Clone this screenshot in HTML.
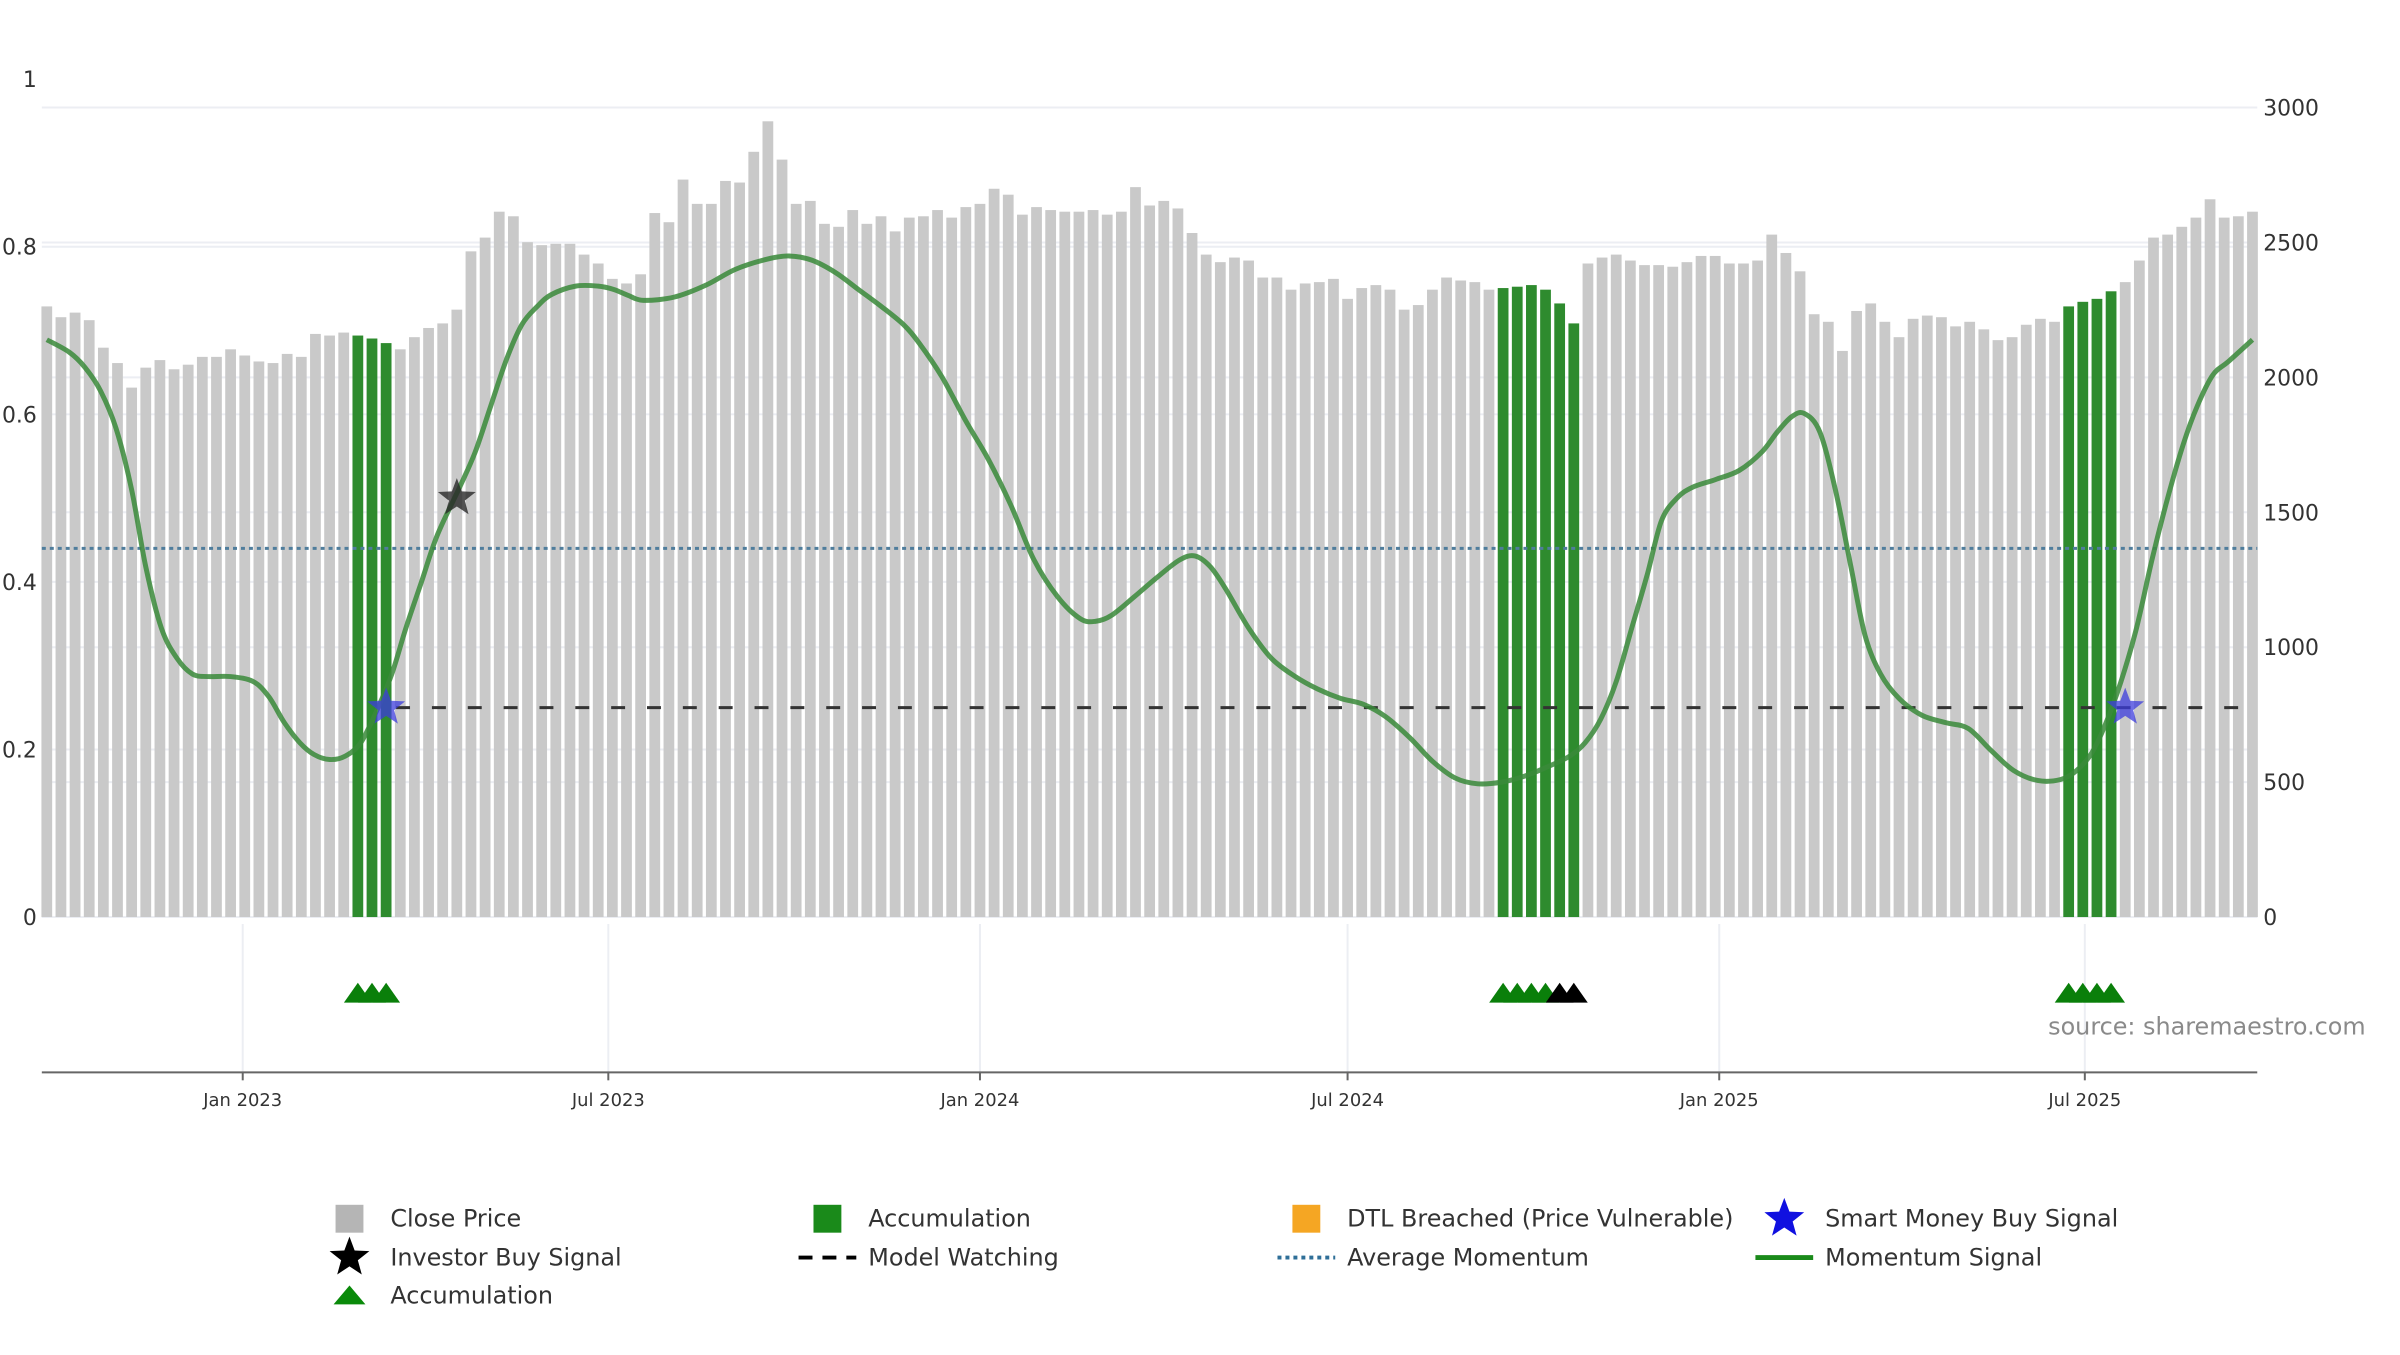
<!DOCTYPE html>
<html><head><meta charset="utf-8">
<style>
html,body{margin:0;padding:0;background:#fff;}
svg text{font-family:"DejaVu Sans","Liberation Sans",sans-serif;}
</style></head>
<body>
<svg id="chart" width="2400" height="1350" viewBox="0 0 2400 1350" xmlns="http://www.w3.org/2000/svg">
<g transform="scale(0.9957)">
<g id="grid"></g>
<g id="bars"></g>
<g id="lines"></g>
<g id="marks"></g>
<g id="axes"></g>
<text x="2057" y="1039" font-size="24" fill="#8a8a8a">source: sharemaestro.com</text>
<g id="legend"></g>
</g>
</svg>
<script>
const prices=[2263,2223,2240,2212,2110,2053,1962,2036,2064,2030,2047,2076,2076,2104,2081,2059,2053,2087,2076,2161,2155,2166,2155,2144,2127,2104,2149,2183,2200,2251,2467,2518,2614,2597,2501,2490,2495,2495,2455,2422,2365,2348,2382,2609,2575,2733,2643,2643,2728,2722,2836,2949,2807,2643,2654,2569,2558,2620,2569,2597,2541,2592,2597,2620,2592,2631,2643,2699,2677,2603,2631,2620,2614,2614,2620,2603,2614,2705,2637,2654,2626,2535,2455,2427,2444,2433,2370,2370,2325,2348,2353,2365,2291,2331,2342,2325,2251,2268,2325,2370,2359,2353,2325,2331,2336,2342,2325,2274,2200,2422,2444,2455,2433,2416,2416,2410,2427,2450,2450,2422,2422,2433,2529,2461,2393,2234,2206,2098,2246,2274,2206,2149,2217,2229,2223,2189,2206,2178,2138,2149,2195,2217,2206,2263,2280,2291,2319,2353,2433,2518,2529,2558,2592,2660,2592,2597,2614];
const accumIdx=[22,23,24,103,104,105,106,107,108,143,144,145,146];
const triGreenIdx=[22,23,24,103,104,105,106,143,144,145,146];
const triBlackIdx=[107,108];
const momIdx=[0,1.6,2.7,3.8,4.9,6.0,7.0,8.1,9.2,10.3,11.4,13.0,14.6,15.7,16.8,17.9,18.9,20.0,21.1,22.2,23.3,24.4,25.4,26.5,27.6,29.2,30.3,31.4,32.5,33.6,34.7,35.7,37.4,39.0,40.1,41.1,42.2,44.4,46.6,48.7,50.9,52.5,54.1,55.8,57.4,59.0,60.6,61.7,63.3,65.0,66.6,68.2,69.8,71.5,73.1,74.2,75.3,76.9,78.5,80.1,81.2,82.3,83.4,85.0,86.6,88.3,89.9,91.5,93.1,94.7,96.4,98.0,99.6,101.2,102.9,104.5,106.1,107.7,108.8,109.9,111.0,112.1,113.2,114.2,115.3,116.4,118.0,119.7,121.3,122.4,123.4,124.3,125.4,126.5,127.6,128.6,129.7,131.0,132.6,134.3,135.9,137.5,139.1,140.8,142.4,143.5,144.6,145.6,146.7,147.8,148.9,150.0,151.1,152.1,153.2,154.3,156];
const momVal=[.689,.674,.656,.628,.583,.510,.418,.345,.309,.290,.287,.287,.281,.263,.232,.208,.194,.188,.192,.208,.245,.290,.345,.400,.455,.513,.555,.610,.665,.707,.729,.743,.753,.753,.749,.742,.736,.740,.754,.773,.785,.789,.784,.769,.749,.729,.707,.685,.645,.592,.546,.491,.427,.382,.356,.353,.360,.382,.405,.426,.431,.418,.391,.345,.309,.287,.272,.261,.254,.239,.214,.186,.166,.159,.161,.168,.179,.192,.208,.236,.281,.345,.409,.473,.500,.513,.522,.533,.555,.579,.597,.601,.579,.510,.418,.336,.290,.261,.241,.232,.225,.199,.175,.163,.164,.174,.195,.230,.281,.345,.427,.500,.564,.610,.647,.663,.689];
const avgMomentum=0.44;
const watchLevel=0.25;
const watchStartIdx=24;
const smartIdx=[24,147];
const smartVal=[0.25,0.25];
const investorIdx=[29];
const investorVal=[0.50];
const leftTicks=[0,0.2,0.4,0.6,0.8,1];
const leftTickLabels=["0","0.2","0.4","0.6","0.8","1"];
const rightTicks=[0,500,1000,1500,2000,2500,3000];
const dateTicks=["2023-01-01","2023-07-01","2024-01-01","2024-07-01","2025-01-01","2025-07-01"];
const dateTickLabels=["Jan 2023","Jul 2023","Jan 2024","Jul 2024","Jan 2025","Jul 2025"];
const startDate="2022-09-26";

const NS="http://www.w3.org/2000/svg";
const X0=47,STEP=14.2,PL=42,PR=2267,Y0=921;
const xi=i=>X0+i*STEP;
const yl=v=>Y0-v*841.5;
const yr=p=>Y0-p*(813/3000);
const xd=d=>X0+(Date.parse(d)-Date.parse(startDate))/86400000*(STEP/7);
function el(tag,attrs,parent){const e=document.createElementNS(NS,tag);for(const k in attrs)e.setAttribute(k,attrs[k]);parent.appendChild(e);return e;}
const G=id=>document.getElementById(id);

leftTicks.filter(v=>v<1).forEach(v=>{const l=el('line',{x1:PL,x2:PR,y1:yl(v),y2:yl(v),stroke:'#eceef3','stroke-width':2},G('grid'));

});
rightTicks.forEach(v=>{const l=el('line',{x1:PL,x2:PR,y1:yr(v),y2:yr(v),stroke:'#eceef3','stroke-width':2},G('grid'));

});
dateTicks.forEach(d=>{const l=el('line',{x1:xd(d),x2:xd(d),y1:928,y2:1077,stroke:'#eceef3','stroke-width':2},G('grid'));

});

prices.forEach((p,i)=>{const acc=accumIdx.includes(i);
const r=el('rect',{x:xi(i)-5.4,y:yr(p),width:10.8,height:Y0-yr(p),fill:acc?'#2e8b2e':'#c9c9c9'},G('bars'));

});

const am=el('line',{x1:PL,x2:PR,y1:yl(avgMomentum),y2:yl(avgMomentum),stroke:'#4f7d9c','stroke-width':3,'stroke-dasharray':'4,4'},G('lines'));


const mw=el('line',{x1:xi(watchStartIdx)+10,x2:xi(prices.length-1)+2,y1:yl(watchLevel),y2:yl(watchLevel),stroke:'#333','stroke-width':3,'stroke-dasharray':'14,22'},G('lines'));


const pts=momIdx.map((i,k)=>[xi(i),yl(momVal[k])]);
let d=`M${pts[0][0]},${pts[0][1]}`;
for(let k=0;k<pts.length-1;k++){const p0=pts[k-1]||pts[k],p1=pts[k],p2=pts[k+1],p3=pts[k+2]||p2;
d+=` C${p1[0]+(p2[0]-p0[0])/6},${p1[1]+(p2[1]-p0[1])/6} ${p2[0]-(p3[0]-p1[0])/6},${p2[1]-(p3[1]-p1[1])/6} ${p2[0]},${p2[1]}`;}
const ml=el('path',{d:d,fill:'none',stroke:'#3a8a3a','stroke-width':5,'stroke-opacity':0.85,'stroke-linejoin':'round'},G('lines'));



function star(cx,cy,r,fill,parent){let s='';for(let k=0;k<10;k++){const a=-Math.PI/2+k*Math.PI/5,rr=k%2?r*0.42:r;s+=(cx+rr*Math.cos(a))+','+(cy+rr*Math.sin(a))+' ';}
return el('polygon',{points:s,fill:fill},parent);}
smartIdx.forEach((i,k)=>{const s=star(xi(i),yl(smartVal[k]),20,'rgba(60,60,220,0.75)',G('marks'));

});
investorIdx.forEach((i,k)=>{const s=star(xi(i),yl(investorVal[k]),20,'rgba(40,40,40,0.8)',G('marks'));

});
function tri(i,fill){const x=xi(i),y=997;return el('polygon',{points:`${x-14},${y+10} ${x},${y-10} ${x+14},${y+10}`,fill:fill},G('marks'));}
triGreenIdx.forEach(i=>{const t=tri(i,'#0a7f0a');

});
triBlackIdx.forEach(i=>{const t=tri(i,'#000');

});

const ax=el('line',{x1:PL,x2:PR,y1:1077,y2:1077,stroke:'#666','stroke-width':2},G('axes'));


leftTicks.forEach((v,k)=>{const t=el('text',{x:37,y:yl(v)+8,'font-size':22,fill:'#333','text-anchor':'end'},G('axes'));t.textContent=leftTickLabels[k];

});
rightTicks.forEach(v=>{const t=el('text',{x:2273,y:yr(v)+8,'font-size':22,fill:'#333'},G('axes'));t.textContent=String(v);

});
dateTicks.forEach((dd,k)=>{const x=xd(dd);
const tk=el('line',{x1:x,x2:x,y1:1077,y2:1085,stroke:'#666','stroke-width':2},G('axes'));


const t=el('text',{x:x,y:1111,'font-size':18,fill:'#333','text-anchor':'middle'},G('axes'));t.textContent=dateTickLabels[k];

});

const L=G('legend');
const items=[
['sq','#b5b5b5','Close Price',351,1224],['sq','#1a8a1a','Accumulation',831,1224],['sq','#f5a623','DTL Breached (Price Vulnerable)',1312,1224],['star','#1010e0','Smart Money Buy Signal',1792,1224],
['star','#000','Investor Buy Signal',351,1263],['dash','#000','Model Watching',831,1263],['dot','#2f6f98','Average Momentum',1312,1263],['line','#1a8a1a','Momentum Signal',1792,1263],
['tri','#0a8a0a','Accumulation',351,1301]];
items.forEach(it=>{const [kind,col,label,x,y]=it;const g=el('g',{},L);


if(kind==='sq')el('rect',{x:x-14,y:y-14,width:28,height:28,fill:col},g);
if(kind==='star')star(x,y,21,col,g);
if(kind==='tri')el('polygon',{points:`${x-16},${y+9} ${x},${y-10} ${x+16},${y+9}`,fill:col},g);
if(kind==='dash')el('line',{x1:x-29,x2:x+29,y1:y,y2:y,stroke:col,'stroke-width':4,'stroke-dasharray':'14,10'},g);
if(kind==='dot')el('line',{x1:x-29,x2:x+29,y1:y,y2:y,stroke:col,'stroke-width':4,'stroke-dasharray':'4,4'},g);
if(kind==='line')el('line',{x1:x-29,x2:x+29,y1:y,y2:y,stroke:col,'stroke-width':5},g);
const t=el('text',{x:x+41,y:y+8,'font-size':24,fill:'#333'},g);t.textContent=label;});
</script>
</body></html>
